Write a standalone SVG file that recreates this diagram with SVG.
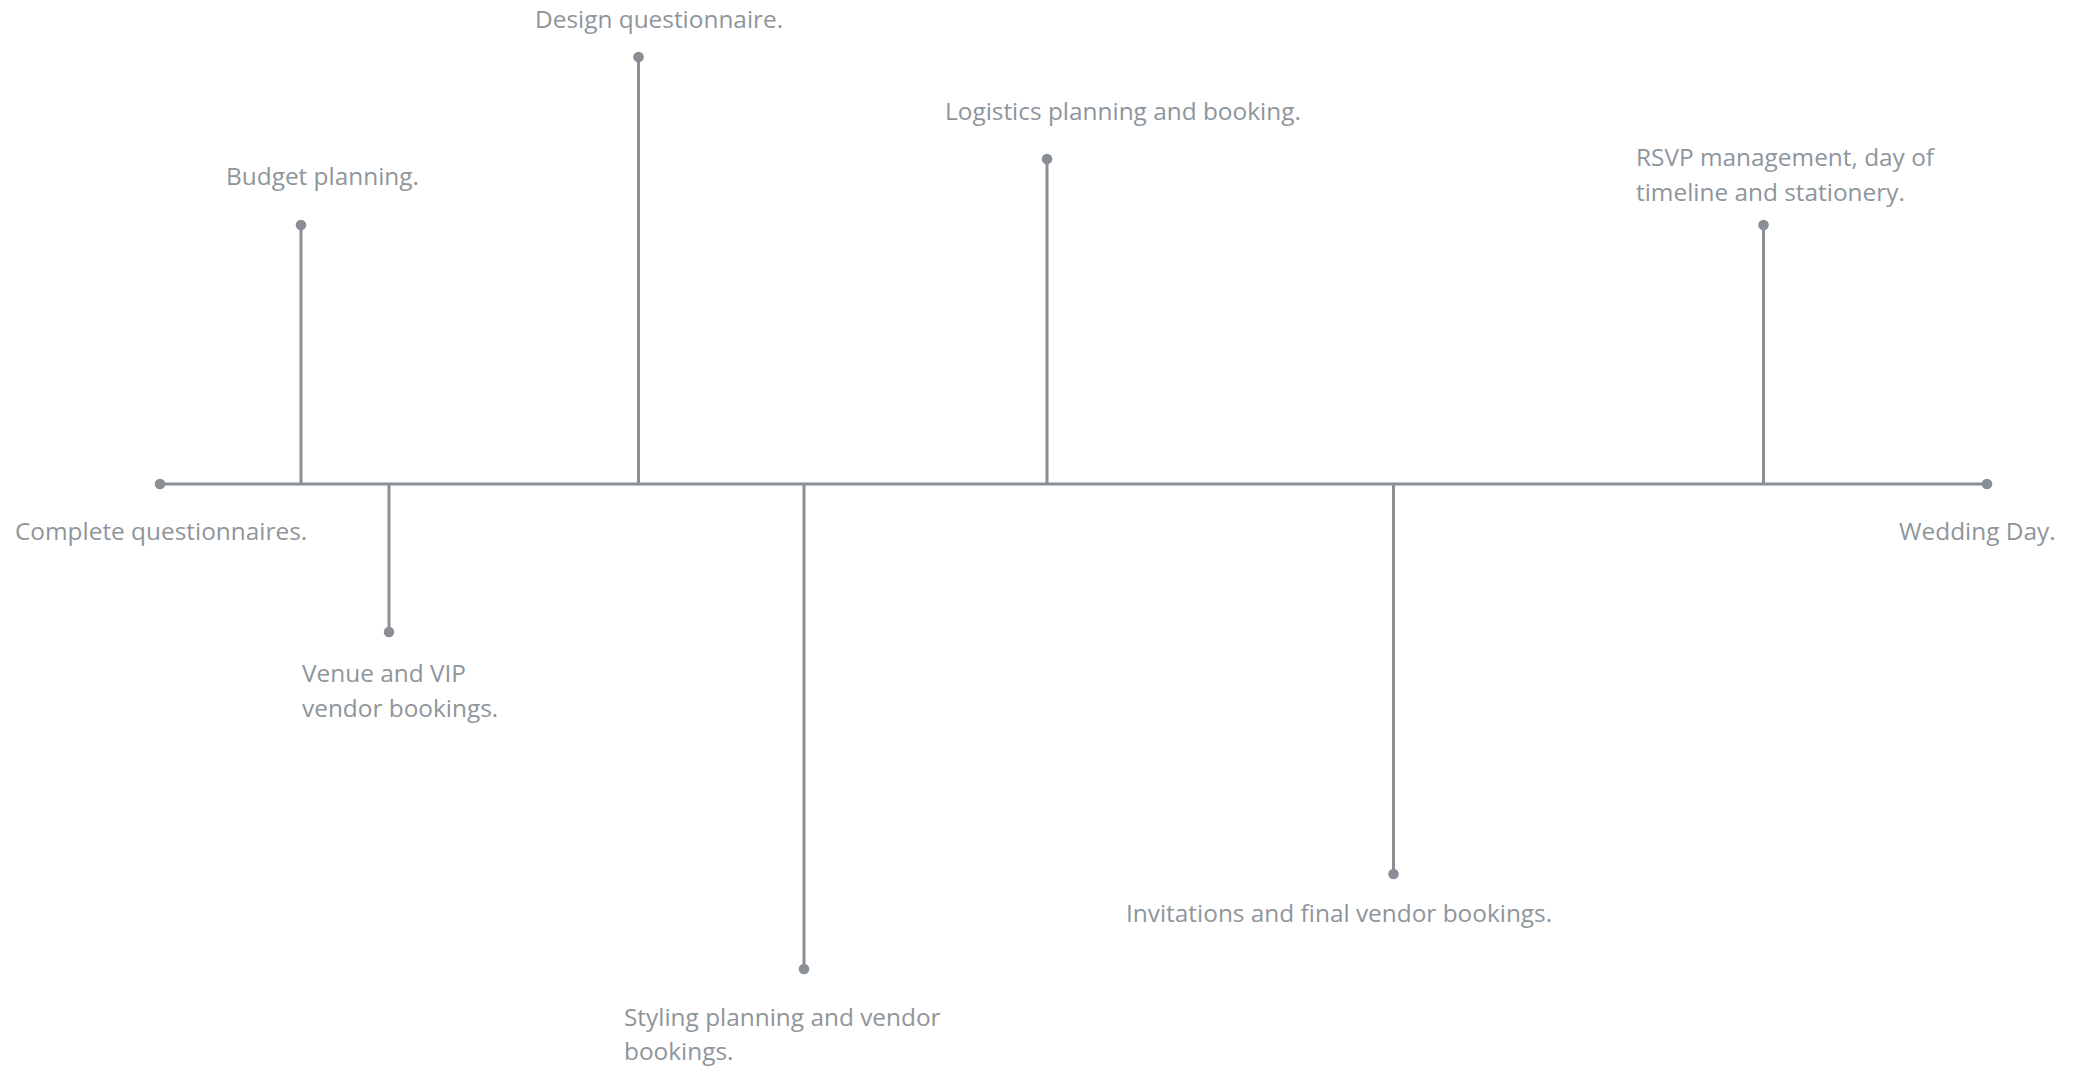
<svg xmlns="http://www.w3.org/2000/svg" width="2075" height="1068" viewBox="0 0 2075 1068">
<style>
.ln{stroke:#8a8f95;stroke-width:3;fill:none}
.dot{fill:#8a8f95}
.t{font-family:"Open Sans","Liberation Sans",sans-serif;font-size:24.4px;fill:#8e959b}
</style>
<rect width="2075" height="1068" fill="#ffffff"/>
<g id="connectors">
<line class="ln" x1="160" y1="484" x2="1987" y2="484"/>
<line class="ln" x1="301" y1="225" x2="301" y2="484"/>
<line class="ln" x1="638.5" y1="57" x2="638.5" y2="484"/>
<line class="ln" x1="1047" y1="159" x2="1047" y2="484"/>
<line class="ln" x1="1763.5" y1="225" x2="1763.5" y2="484"/>
<line class="ln" x1="389" y1="484" x2="389" y2="632"/>
<line class="ln" x1="804" y1="484" x2="804" y2="969"/>
<line class="ln" x1="1393.5" y1="484" x2="1393.5" y2="874"/>
</g>
<g id="start">
<circle class="dot" cx="160" cy="484" r="5.3"/>
<text class="t" x="15" y="540">Complete questionnaires.</text>
</g>
<g id="end">
<circle class="dot" cx="1987" cy="484" r="5.3"/>
<text class="t" x="1899" y="540">Wedding Day.</text>
</g>
<g id="budget">
<circle class="dot" cx="301" cy="225" r="5.3"/>
<text class="t" x="226" y="185">Budget planning.</text>
</g>
<g id="design">
<circle class="dot" cx="638.5" cy="57" r="5.3"/>
<text class="t" x="535" y="28">Design questionnaire.</text>
</g>
<g id="logistics">
<circle class="dot" cx="1047" cy="159" r="5.3"/>
<text class="t" x="945" y="120">Logistics planning and booking.</text>
</g>
<g id="rsvp">
<circle class="dot" cx="1763.5" cy="225" r="5.3"/>
<text class="t" x="1636" y="166">RSVP management, day of</text>
<text class="t" x="1636" y="201">timeline and stationery.</text>
</g>
<g id="venue">
<circle class="dot" cx="389" cy="632" r="5.3"/>
<text class="t" x="302" y="682">Venue and VIP</text>
<text class="t" x="302" y="717">vendor bookings.</text>
</g>
<g id="styling">
<circle class="dot" cx="804" cy="969" r="5.3"/>
<text class="t" x="624" y="1026">Styling planning and vendor</text>
<text class="t" x="624" y="1060">bookings.</text>
</g>
<g id="invitations">
<circle class="dot" cx="1393.5" cy="874" r="5.3"/>
<text class="t" x="1126" y="922">Invitations and final vendor bookings.</text>
</g>
</svg>
